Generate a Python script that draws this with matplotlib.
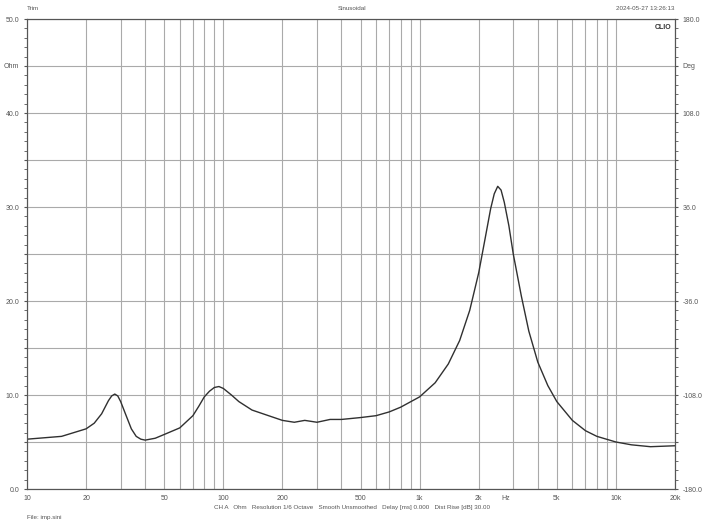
import numpy as np
import matplotlib.pyplot as plt
from matplotlib import ticker

freq = [10, 15, 20, 22, 24, 26, 27, 28, 29, 30, 32, 34, 36, 38, 40, 45, 50,
        60, 70, 75, 80, 85, 90, 95, 100, 110, 120, 140, 170, 200, 230, 260,
        300, 350, 400, 500, 600, 700, 800, 1000, 1200, 1400, 1600, 1800, 2000,
        2150, 2300, 2400, 2500, 2600, 2700, 2850, 3000, 3300, 3600, 4000, 4500,
        5000, 6000, 7000, 8000, 10000, 12000, 15000, 20000]
imp = [5.3, 5.6, 6.4, 7.0, 8.0, 9.4, 9.9, 10.1, 9.9, 9.3, 7.8, 6.4, 5.6, 5.3,
       5.2, 5.4, 5.8, 6.5, 7.8, 8.8, 9.8, 10.4, 10.8, 10.9, 10.7, 10.0, 9.3,
       8.4, 7.8, 7.3, 7.1, 7.3, 7.1, 7.4, 7.4, 7.6, 7.8, 8.2, 8.7, 9.8, 11.3,
       13.3, 15.8, 19.0, 23.0, 26.5, 29.8, 31.4, 32.2, 31.8, 30.5, 28.0, 25.0,
       20.5, 16.8, 13.5, 11.0, 9.3, 7.3, 6.2, 5.6, 5.0, 4.7, 4.5, 4.6]

labels = {10: "10", 20: "20", 50: "50", 100: "100", 200: "200", 500: "500",
          1000: "1k", 2000: "2k", 5000: "5k", 10000: "10k", 20000: "20k"}
grid_f = [m * 10 ** d for d in range(1, 5) for m in range(1, 10) if m * 10 ** d <= 20000]

plt.rcParams["font.family"] = "Liberation Sans"
fig = plt.figure(figsize=(7.05, 5.28), dpi=100)
ax = fig.add_axes([27 / 705, 1 - 489 / 528, 648 / 705, 470 / 528])

ax.plot(freq, imp, color="#303030", lw=1.0)
ax.set_xscale("log")
ax.set_xlim(10, 20000)
ax.set_ylim(0, 50)

ax.xaxis.set_major_locator(ticker.FixedLocator(grid_f))
ax.xaxis.set_major_formatter(ticker.FixedFormatter([labels.get(f, "") for f in grid_f]))
ax.xaxis.set_minor_locator(ticker.NullLocator())
ax.grid(True, which="major", axis="x", color="#aaaaaa", lw=0.8)
ax.set_yticks(np.arange(0, 51, 5))
ax.set_yticklabels(["0.0", "", "10.0", "", "20.0", "", "30.0", "", "40.0", "Ohm", "50.0"])
ax.yaxis.set_minor_locator(ticker.MultipleLocator(1))
ax.grid(True, which="major", axis="y", color="#aaaaaa", lw=0.8)
ax.tick_params(axis="both", which="both", labelsize=5, colors="#555555", length=2)
ax.tick_params(axis="x", which="both", length=0, pad=4)
ax.annotate("Hz", xy=(2750, 0), xycoords="data", xytext=(0, -4), textcoords="offset points",
            fontsize=5, color="#555555", ha="center", va="top", annotation_clip=False)

ax2 = ax.twinx()
ax2.set_ylim(-180, 180)
ax2.set_yticks(np.arange(-180, 181, 36))
ax2.set_yticklabels(["-180.0", "", "-108.0", "", "-36.0", "", "36.0", "", "108.0", "Deg", "180.0"])
ax2.yaxis.set_minor_locator(ticker.MultipleLocator(7.2))
ax2.tick_params(axis="y", which="both", labelsize=5, colors="#555555", length=2)

for a in (ax, ax2):
    for s in a.spines.values():
        s.set_color("#555555")
        s.set_linewidth(0.8)

fig.text(27 / 705, 1 - 8 / 528, "Trim", fontsize=4.5, color="#555555", va="center")
fig.text(0.5, 1 - 8 / 528, "Sinusoidal", fontsize=4.5, color="#555555", va="center", ha="center")
fig.text(675 / 705, 1 - 8 / 528, "2024-05-27 13:26:13", fontsize=4.5, color="#555555", va="center", ha="right")
ax.text(0.995, 0.99, "CLIO", transform=ax.transAxes, fontsize=5, fontweight="bold",
        color="#333333", ha="right", va="top")
fig.text(0.5, 1 - 507 / 528, "CH A   Ohm   Resolution 1/6 Octave   Smooth Unsmoothed   Delay [ms] 0.000   Dist Rise [dB] 30.00",
         fontsize=4.5, color="#555555", ha="center", va="center")
fig.text(27 / 705, 1 - 518 / 528, "File: imp.sini", fontsize=4.5, color="#555555", va="center")

fig.savefig("out.png", dpi=100)
